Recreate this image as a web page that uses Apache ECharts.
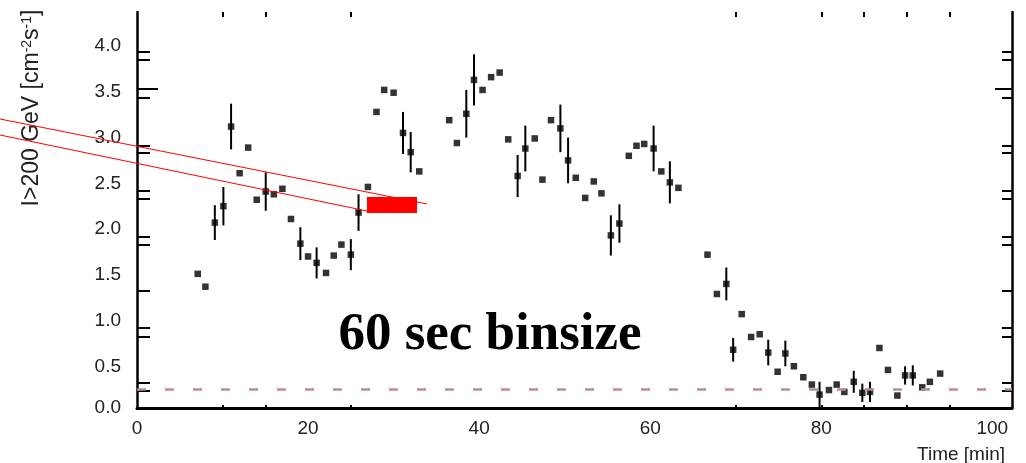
<!DOCTYPE html>
<html>
<head>
<meta charset="utf-8">
<script src="https://cdn.jsdelivr.net/npm/echarts@6/dist/echarts.min.js"></script>
<style>
  html, body { margin: 0; padding: 0; background: #fff; }
  #chart { width: 1026px; height: 463px; }
</style>
</head>
<body>
<div id="chart"></div>
<script>
// Integral flux above 200 GeV in 60 s bins
const timeMin = [
  7.1, 8.0, 9.1, 10.1, 11.0, 12.0, 13.0, 14.0, 15.05, 16.0,
  17.0, 18.0, 19.1, 20.0, 21.0, 22.1, 23.0, 23.9, 25.0, 25.9,
  27.0, 28.0, 28.9, 30.0, 31.1, 32.0, 33.0, 36.5, 37.4, 38.5,
  39.4, 40.4, 41.4, 42.4, 43.4, 44.5, 45.4, 46.5, 47.4, 48.4,
  49.5, 50.4, 51.3, 52.4, 53.4, 54.3, 55.4, 56.4, 57.5, 58.4,
  59.3, 60.4, 61.3, 62.3, 63.3, 66.7, 67.8, 68.9, 69.7, 70.7,
  71.8, 72.8, 73.8, 74.9, 75.8, 76.8, 77.9, 78.9, 79.8, 80.9,
  81.8, 82.7, 83.8, 84.8, 85.7, 86.8, 87.8, 88.9, 89.8, 90.7,
  91.8, 92.7, 93.9
];
const flux = [
  1.51, 1.37, 2.07, 2.25, 3.12, 2.61, 2.89, 2.32, 2.41, 2.38,
  2.44, 2.11, 1.84, 1.70, 1.63, 1.52, 1.71, 1.83, 1.72, 2.18,
  2.46, 3.28, 3.52, 3.49, 3.05, 2.84, 2.63, 3.19, 2.94, 3.26,
  3.63, 3.52, 3.66, 3.71, 2.98, 2.58, 2.88, 2.99, 2.54, 3.19,
  3.10, 2.75, 2.56, 2.34, 2.52, 2.39, 1.93, 2.06, 2.80, 2.91,
  2.93, 2.88, 2.63, 2.51, 2.45, 1.72, 1.29, 1.40, 0.68, 1.07,
  0.82, 0.85, 0.65, 0.44, 0.64, 0.50, 0.38, 0.30, 0.19, 0.24,
  0.30, 0.22, 0.33, 0.21, 0.22, 0.70, 0.46, 0.18, 0.40, 0.40,
  0.27, 0.33, 0.42
];
const fluxErr = [
  0, 0, 0.19, 0.21, 0.25, 0, 0, 0, 0.21, 0,
  0, 0, 0.18, 0, 0.17, 0, 0, 0, 0.17, 0.20,
  0, 0, 0, 0, 0.23, 0.22, 0, 0, 0, 0.26,
  0.28, 0, 0, 0, 0, 0.23, 0.25, 0, 0, 0,
  0.26, 0.25, 0, 0, 0, 0, 0.22, 0.21, 0, 0,
  0, 0.25, 0, 0.23, 0, 0, 0, 0.18, 0.13, 0,
  0, 0, 0.14, 0, 0.14, 0, 0, 0, 0.14, 0,
  0, 0, 0.12, 0.10, 0.11, 0, 0, 0, 0.10, 0.11,
  0, 0, 0
];
const baselineFlux = 0.25;

const xLabelValues = [0, 20, 40, 60, 80, 100];
const xTickValues = [10, 15, 25, 70, 80, 85, 90, 95];
const yLabelValues = [0.5, 1.0, 1.5, 2.0, 2.5, 3.0, 3.5, 4.0];
const yTickValues = [0.23, 0.317, 0.82, 0.918, 1.322, 1.825, 1.913, 2.328, 2.415, 2.831, 2.907, 3.432, 3.847, 3.934];
const yLongTickValues = [3.53];

const X_MIN = 0, X_MAX = 102.3;
const Y_MIN = 0.044, Y_MAX = 4.372;

const points = timeMin.map((t, i) => [t, flux[i], fluxErr[i]]);

const labelFont = { fontFamily: 'Liberation Sans, Arial, sans-serif', fontSize: 19, color: '#222' };

function yAxisDef(position, ticks, len, withLine, withLabels) {
  return {
    type: 'value', position, min: Y_MIN, max: Y_MAX,
    axisLine: { show: withLine, onZero: false, lineStyle: { color: '#000', width: 2.5 } },
    axisTick: { show: true, inside: true, length: len, customValues: ticks, lineStyle: { color: '#000', width: 2 } },
    axisLabel: withLabels ? Object.assign({
      show: true, margin: 16,
      // the bottom label sits on the axis floor, which rounds to 0.0
      customValues: [Y_MIN].concat(yLabelValues),
      formatter: v => v.toFixed(1)
    }, labelFont) : { show: false },
    splitLine: { show: false }
  };
}

const chart = echarts.init(document.getElementById('chart'), null, { renderer: 'canvas' });
chart.setOption({
  animation: false,
  backgroundColor: '#fff',
  grid: { left: 137, right: 14, top: 12, bottom: 55 },
  xAxis: [
    {
      type: 'value', position: 'bottom', min: X_MIN, max: X_MAX,
      axisLine: { show: true, onZero: false, lineStyle: { color: '#000', width: 3 } },
      axisTick: { show: true, inside: true, length: 3, customValues: xTickValues, lineStyle: { color: '#000', width: 2 } },
      axisLabel: Object.assign({ show: true, margin: 11, customValues: xLabelValues }, labelFont),
      splitLine: { show: false }
    },
    {
      type: 'value', position: 'top', min: X_MIN, max: X_MAX,
      axisLine: { show: false },
      axisTick: { show: true, inside: true, length: 5, customValues: xTickValues, lineStyle: { color: '#000', width: 2 } },
      axisLabel: { show: false },
      splitLine: { show: false }
    }
  ],
  yAxis: [
    yAxisDef('left', yTickValues, 13, true, true),
    yAxisDef('right', yTickValues, 10, true, false),
    yAxisDef('left', yLongTickValues, 21, false, false),
    yAxisDef('right', yLongTickValues, 17, false, false)
  ],
  series: [
    {
      type: 'custom',
      xAxisIndex: 0, yAxisIndex: 0,
      clip: true,
      silent: true,
      data: points,
      encode: { x: 0, y: 1 },
      renderItem: function (params, api) {
        const x = api.value(0), y = api.value(1), e = api.value(2);
        if (!e) return null;
        const lo = api.coord([x, y - e]);
        const hi = api.coord([x, y + e]);
        return {
          type: 'line',
          shape: { x1: lo[0], y1: lo[1], x2: hi[0], y2: hi[1] },
          style: { stroke: '#000', lineWidth: 2 }
        };
      },
      z: 3
    },
    {
      type: 'scatter',
      xAxisIndex: 0, yAxisIndex: 0,
      data: points.map(p => [p[0], p[1]]),
      symbol: 'rect',
      symbolSize: 6.5,
      itemStyle: { color: '#000' },
      silent: true,
      z: 4,
      markLine: {
        silent: true,
        symbol: 'none',
        label: { show: false },
        lineStyle: { color: '#b48f96', type: [9, 19], width: 2.5 },
        data: [{ yAxis: baselineFlux }]
      }
    }
  ],
  graphic: [
    {
      type: 'text', x: 32, y: 108, rotation: Math.PI / 2,
      style: {
        text: 'I>200 GeV [cm{sup|-2}s{sup|-1}]',
        fontFamily: 'Liberation Sans, Arial, sans-serif', fontSize: 23, fill: '#222',
        align: 'center', verticalAlign: 'middle',
        rich: { sup: { fontSize: 14, verticalAlign: 'top', padding: [0, 0, 10, 0], fill: '#222' } }
      }
    },
    {
      type: 'text', x: 1005, y: 455,
      style: {
        text: 'Time [min]',
        fontFamily: 'Liberation Sans, Arial, sans-serif', fontSize: 19, fill: '#222',
        align: 'right', verticalAlign: 'middle'
      }
    },
    {
      type: 'text', x: 490, y: 335,
      style: {
        text: '60 sec binsize',
        fontFamily: 'Liberation Serif, Times New Roman, serif', fontWeight: 'bold', fontSize: 53, fill: '#000',
        align: 'center', verticalAlign: 'middle'
      }
    },
    {
      type: 'line', shape: { x1: 0, y1: 119, x2: 427, y2: 204 },
      style: { stroke: '#ff0000', lineWidth: 1 }, z: 10
    },
    {
      type: 'line', shape: { x1: 0, y1: 135, x2: 367, y2: 211 },
      style: { stroke: '#ff0000', lineWidth: 1 }, z: 10
    },
    {
      type: 'rect', shape: { x: 367, y: 197, width: 50, height: 16 },
      style: { fill: '#ff0000' }, z: 11
    }
  ]
});
</script>
</body>
</html>
